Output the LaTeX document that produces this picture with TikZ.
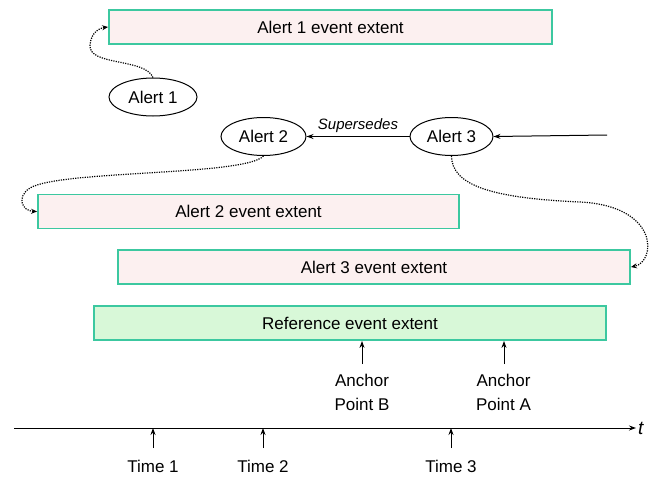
\documentclass[tikz,border=0pt]{standalone}
\usepackage{fontspec}
\setmainfont{Liberation Sans}
\usetikzlibrary{shapes.geometric,arrows.meta}
\definecolor{edgeteal}{RGB}{60,200,160}
\definecolor{pinkfill}{RGB}{252,240,240}
\definecolor{greenfill}{RGB}{216,248,216}
\tikzset{
  every node/.style={font=\fontsize{17}{24}\selectfont},
  extentbox/.style={draw=edgeteal, line width=1.8pt, fill=pinkfill, minimum height=34pt, inner sep=0pt},
  refbox/.style={extentbox, fill=greenfill},
  alertell/.style={draw, ellipse, line width=1pt, minimum height=38pt, inner sep=0pt},
  tip/.style={-{Stealth[length=7pt,width=5pt]}, line width=1pt},
  dotarrow/.style={-{Stealth[length=6pt,width=5pt]}, line width=1.2pt, dash pattern=on 1.2pt off 1.2pt},
  lbl/.style={inner sep=2pt, align=center}
}
\begin{document}
\begin{tikzpicture}[x=1pt,y=-1pt]
\useasboundingbox (0,0) rectangle (649,477);
% extents
\node[extentbox, minimum width=443pt] (e1) at (330.5,27) {Alert 1 event extent};
\node[extentbox, minimum width=421pt] (e2) at (248.5,211.5) {Alert 2 event extent};
\node[extentbox, minimum width=512pt] (e3) at (374,267) {Alert 3 event extent};
\node[refbox, minimum width=512pt] (ref) at (350,323) {Reference event extent};
% alerts
\node[alertell, minimum width=88pt] (a1) at (153,97) {Alert 1};
\node[alertell, minimum width=85pt] (a2) at (263.5,136.5) {Alert 2};
\node[alertell, minimum width=83pt] (a3) at (451.5,136.5) {Alert 3};
% supersedes
\draw[tip] (a3.west) -- node[above, font=\fontsize{15}{18}\selectfont\itshape, inner sep=3pt] (sup) {Supersedes} (a2.east);
\coordinate (inA3) at (607,135);
\draw[tip] (inA3) -- (a3.east);
% dotted links
\draw[dotarrow] (a1.north) .. controls (145,58) and (88,66) .. (90,45) .. controls (91,32) and (100,28) .. (e1.west);
\draw[dotarrow] (a2.south) .. controls (245,176) and (60,170) .. (30,188) .. controls (16,197) and (22,211) .. (e2.west);
\draw[dotarrow] (a3.south) .. controls (452,185) and (490,198) .. (580,202) .. controls (660,206) and (656,262) .. (e3.east);
% anchors
\node[lbl] (anB) at (362,392) {Anchor\\Point B};
\node[lbl] (anA) at (503.5,392) {Anchor\\Point A};
\coordinate (anBtop) at (362,364);
\coordinate (anAtop) at (504,364);
\draw[tip] (anBtop) -- (anBtop |- ref.south);
\draw[tip] (anAtop) -- (anAtop |- ref.south);
% timeline
\coordinate (tstart) at (14,428);
\node[font=\fontsize{19}{22}\selectfont\itshape, anchor=west, inner sep=2pt] (tlab) at (636,428) {t};
\draw[tip] (tstart) -- (tlab.west);
\node[lbl] (t1) at (153,466) {Time 1};
\node[lbl] (t2) at (263,466) {Time 2};
\node[lbl] (t3) at (451,466) {Time 3};
\coordinate (t1b) at (153,448);
\coordinate (t2b) at (263,448);
\coordinate (t3b) at (451,448);
\draw[tip] (t1b) -- (t1b |- tstart);
\draw[tip] (t2b) -- (t2b |- tstart);
\draw[tip] (t3b) -- (t3b |- tstart);
\end{tikzpicture}
\end{document}
